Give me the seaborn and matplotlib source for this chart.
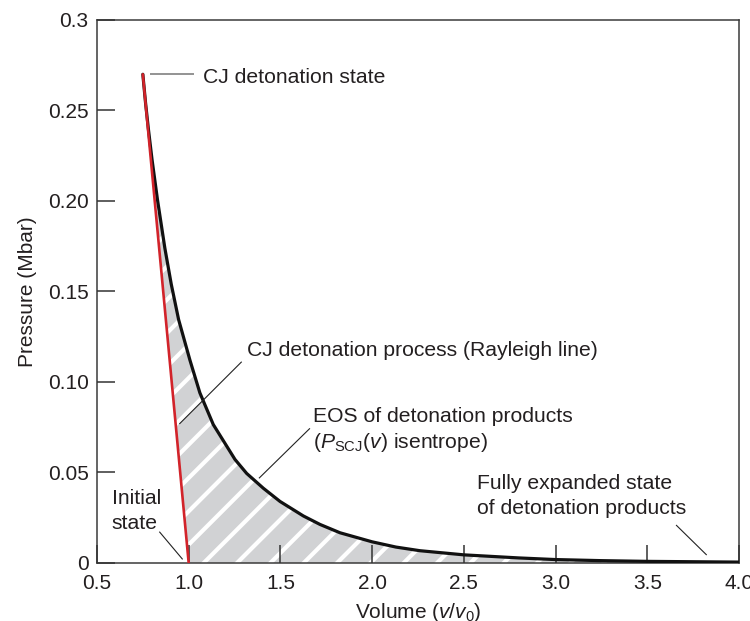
import numpy as np
import pandas as pd
import matplotlib
matplotlib.use("Agg")
import matplotlib.pyplot as plt
import seaborn as sns

# Isentrope of the detonation products (v/v0, pressure in Mbar)
volume = [0.750, 0.765, 0.780, 0.800, 0.830, 0.870, 0.905, 0.945, 1.007,
          1.061, 1.134, 1.2525, 1.316, 1.407, 1.498, 1.625, 1.716, 1.825,
          2.000, 2.130, 2.260, 2.500, 2.800, 3.000, 3.250, 3.500, 3.750,
          4.000]
pressure = [0.2700, 0.2540, 0.2400, 0.2230, 0.2006, 0.1740, 0.1540, 0.1345,
            0.1120, 0.0940, 0.0765, 0.0572, 0.0495, 0.0413, 0.0340, 0.0260,
            0.0213, 0.0167, 0.0117, 0.0088, 0.0068, 0.0045, 0.0028, 0.0019,
            0.0013, 0.0009, 0.0007, 0.0005]

# Rayleigh line: initial state -> CJ state
rayleigh_v = [1.0, 0.75]
rayleigh_p = [0.0, 0.27]

x_ticks = [0.5, 1.0, 1.5, 2.0, 2.5, 3.0, 3.5, 4.0]
x_ticklabels = ["0.5", "1.0", "1.5", "2.0", "2.5", "3.0", "3.5", "4.0"]
y_ticks = [0.0, 0.05, 0.10, 0.15, 0.20, 0.25, 0.30]
y_ticklabels = ["0", "0.05", "0.10", "0.15", "0.20", "0.25", "0.3"]

# (text, x, y) baselines of the callout labels
labels = [
    ("CJ detonation state", 1.078, 0.2650),
    ("CJ detonation process (Rayleigh line)", 1.3195, 0.1144),
    ("EOS of detonation products", 1.676, 0.0777),
    (r"($P_{\mathrm{SCJ}}$($v$) isentrope)", 1.676, 0.0634),
    ("Initial", 0.580, 0.0324),
    ("state", 0.580, 0.0188),
    ("Fully expanded state", 2.574, 0.0409),
    ("of detonation products", 2.574, 0.0269),
]
# leader lines: (x0, y0, x1, y1, colour, width)
leaders = [
    (0.789, 0.2702, 1.029, 0.2702, "#8a8a8a", 1.3),
    (1.289, 0.1112, 0.949, 0.0768, "#222222", 0.8),
    (1.661, 0.0744, 1.383, 0.0468, "#222222", 0.8),
    (0.840, 0.0173, 0.967, 0.0020, "#222222", 0.8),
    (3.657, 0.0210, 3.824, 0.0044, "#222222", 0.8),
]

sns.set_theme(style="white")
plt.rcParams["font.family"] = ["Liberation Sans", "DejaVu Sans"]
plt.rcParams["mathtext.fontset"] = "custom"
plt.rcParams["mathtext.rm"] = "Liberation Sans"
plt.rcParams["mathtext.it"] = "Liberation Sans:italic"
plt.rcParams["mathtext.bf"] = "Liberation Sans:bold"
plt.rcParams["hatch.linewidth"] = 3.0

text_color = "#231f20"

fig = plt.figure(figsize=(7.5, 6.21), dpi=100)
ax = fig.add_axes([0.1293, 0.0934, 0.8560, 0.8744])
ax.set_axisbelow(False)

# shaded work region between Rayleigh line and isentrope
poly_v = volume + [volume[-1], rayleigh_v[0]]
poly_p = pressure + [0.0, rayleigh_p[0]]
ax.fill(poly_v, poly_p, facecolor="#d1d2d4", edgecolor="white",
        hatch="/", linewidth=0, zorder=1)

curve = pd.DataFrame({"v": volume, "p": pressure})
sns.lineplot(data=curve, x="v", y="p", sort=False, color="#111111",
             linewidth=2.3, ax=ax, zorder=3, solid_joinstyle="round")
ray = pd.DataFrame({"v": rayleigh_v, "p": rayleigh_p})
sns.lineplot(data=ray, x="v", y="p", sort=False, color="#d2232a",
             linewidth=1.9, ax=ax, zorder=4)

for x0, y0, x1, y1, col, lw in leaders:
    ax.plot([x0, x1], [y0, y1], color=col, linewidth=lw, zorder=5,
            solid_capstyle="butt")

for txt, x, y in labels:
    ax.text(x, y, txt, fontsize=15.2, color=text_color, ha="left",
            va="baseline", zorder=6)

ax.set_xlim(0.5, 4.0)
ax.set_ylim(0.0, 0.3)
ax.set_xticks(x_ticks)
ax.set_xticklabels(x_ticklabels)
ax.set_yticks(y_ticks)
ax.set_yticklabels(y_ticklabels)
ax.tick_params(axis="both", which="major", bottom=True, left=True,
               top=False, right=False, direction="in", length=13, width=1.1,
               color="#333333", labelsize=15, labelcolor=text_color)
ax.tick_params(axis="x", pad=8)
ax.tick_params(axis="y", pad=6)

for sp in ax.spines.values():
    sp.set_color("#3a3a3a")
    sp.set_linewidth(1.1)
    sp.set_visible(True)

ax.set_xlabel(r"Volume ($v$/$v_0$)", fontsize=15, color=text_color, labelpad=6)
ax.set_ylabel("Pressure (Mbar)", fontsize=15, color=text_color, labelpad=8)

fig.savefig("out.png", dpi=100, facecolor="white")
